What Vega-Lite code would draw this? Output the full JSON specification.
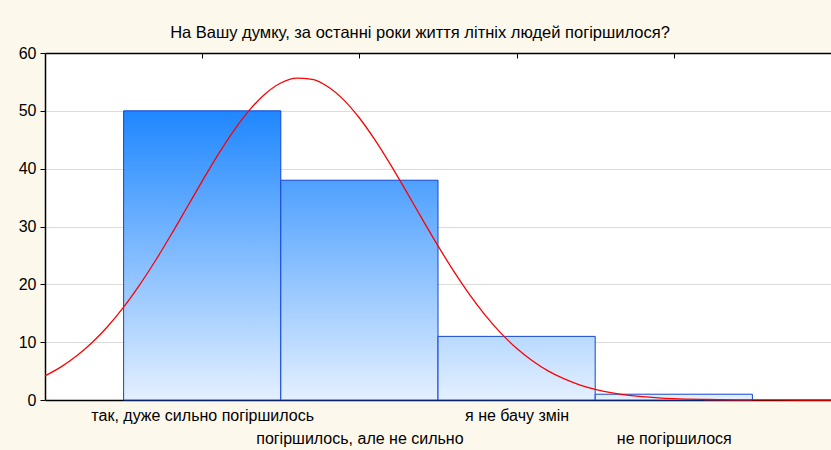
{
  "$schema": "https://vega.github.io/schema/vega-lite/v6.json",
  "autosize": "none",
  "width": 786,
  "height": 347,
  "padding": {"left": 45, "top": 53, "right": 0, "bottom": 50},
  "background": "#fdf8ec",
  "title": {
    "text": "На Вашу думку, за останні роки життя літніх людей погіршилося?",
    "font": "Liberation Sans",
    "fontSize": 16.5,
    "fontWeight": "normal",
    "color": "#000000",
    "anchor": "middle",
    "dx": -18,
    "offset": 4
  },
  "config": {
    "view": {"fill": "#ffffff", "stroke": null},
    "axis": {
      "labelFont": "Liberation Sans",
      "labelFontSize": 16,
      "labelColor": "#000000",
      "labelLimit": 0,
      "domainColor": "#000000",
      "domainWidth": 1.5,
      "tickColor": "#000000",
      "title": null
    }
  },
  "datasets": {
    "bars": [
      {"x0": 0.5, "x1": 1.5, "n": 50, "cat": "так, дуже сильно погіршилось"},
      {"x0": 1.5, "x1": 2.5, "n": 38, "cat": "погіршилось, але не сильно"},
      {"x0": 2.5, "x1": 3.5, "n": 11, "cat": "я не бачу змін"},
      {"x0": 3.5, "x1": 4.5, "n": 1, "cat": "не погіршилося"}
    ],
    "curve": [
      {"x": 0.0, "y": 4.18}, {"x": 0.1, "y": 5.69}, {"x": 0.2, "y": 7.6}, {"x": 0.3, "y": 9.94},
      {"x": 0.4, "y": 12.76}, {"x": 0.5, "y": 16.05}, {"x": 0.6, "y": 19.82}, {"x": 0.7, "y": 23.99},
      {"x": 0.8, "y": 28.48}, {"x": 0.9, "y": 33.15}, {"x": 1.0, "y": 37.85}, {"x": 1.1, "y": 42.38},
      {"x": 1.2, "y": 46.53}, {"x": 1.3, "y": 50.11}, {"x": 1.4, "y": 52.92}, {"x": 1.5, "y": 54.81},
      {"x": 1.6, "y": 55.67}, {"x": 1.7, "y": 55.45}, {"x": 1.8, "y": 54.17}, {"x": 1.9, "y": 51.9},
      {"x": 2.0, "y": 48.76}, {"x": 2.1, "y": 44.93}, {"x": 2.2, "y": 40.6}, {"x": 2.3, "y": 35.98},
      {"x": 2.4, "y": 31.27}, {"x": 2.5, "y": 26.65}, {"x": 2.6, "y": 22.28}, {"x": 2.7, "y": 18.26},
      {"x": 2.8, "y": 14.68}, {"x": 2.9, "y": 11.57}, {"x": 3.0, "y": 8.95}, {"x": 3.1, "y": 6.79},
      {"x": 3.2, "y": 5.04}, {"x": 3.3, "y": 3.68}, {"x": 3.4, "y": 2.63}, {"x": 3.5, "y": 1.85},
      {"x": 3.6, "y": 1.27}, {"x": 3.7, "y": 0.86}, {"x": 3.8, "y": 0.57}, {"x": 3.9, "y": 0.37},
      {"x": 4.0, "y": 0.23}, {"x": 4.2, "y": 0.09}, {"x": 4.4, "y": 0.03}, {"x": 4.6, "y": 0.01},
      {"x": 4.8, "y": 0.0}, {"x": 5.0, "y": 0.0}
    ]
  },
  "resolve": {"axis": {"x": "independent"}},
  "layer": [
    {
      "data": {"name": "bars"},
      "transform": [{"filter": "datum.n == 50"}],
      "mark": {
        "type": "bar",
        "fill": {"gradient": "linear", "x1": 0, "y1": 0, "x2": 0, "y2": 1,
          "stops": [{"offset": 0, "color": "#1f87ff"}, {"offset": 1, "color": "#e4f0ff"}]},
        "stroke": "#1246d2", "strokeWidth": 1
      },
      "encoding": {
        "x": {"field": "x0", "type": "quantitative",
          "scale": {"domain": [0, 5], "nice": false, "zero": false, "padding": 0},
          "axis": {
            "orient": "bottom", "values": [1, 2, 3, 4], "grid": false,
            "tickSize": -5, "labelPadding": 12, "labelBaseline": "top",
            "labelLineHeight": 23, "labelOverlap": false, "labelBound": false, "labelFlush": false,
            "labelExpr": "datum.value == 1 ? 'так, дуже сильно погіршилось' : datum.value == 2 ? ['', 'погіршилось, але не сильно'] : datum.value == 3 ? 'я не бачу змін' : ['', 'не погіршилося']"
          }},
        "x2": {"field": "x1"},
        "y": {"field": "n", "type": "quantitative",
          "scale": {"domain": [0, 60], "nice": false, "padding": 0},
          "axis": {"values": [0, 10, 20, 30, 40, 50, 60], "grid": true, "gridColor": "#dcdcdc",
            "tickSize": 5, "labelPadding": 4}},
        "y2": {"datum": 0}
      }
    },
    {
      "data": {"name": "bars"},
      "transform": [{"filter": "datum.n == 38"}],
      "mark": {
        "type": "bar",
        "fill": {"gradient": "linear", "x1": 0, "y1": 0, "x2": 0, "y2": 1,
          "stops": [{"offset": 0, "color": "#4ea0ff"}, {"offset": 1, "color": "#e4f0ff"}]},
        "stroke": "#1246d2", "strokeWidth": 1
      },
      "encoding": {
        "x": {"field": "x0", "type": "quantitative", "axis": null},
        "x2": {"field": "x1"},
        "y": {"field": "n", "type": "quantitative"},
        "y2": {"datum": 0}
      }
    },
    {
      "data": {"name": "bars"},
      "transform": [{"filter": "datum.n == 11"}],
      "mark": {
        "type": "bar",
        "fill": {"gradient": "linear", "x1": 0, "y1": 0, "x2": 0, "y2": 1,
          "stops": [{"offset": 0, "color": "#b9d9ff"}, {"offset": 1, "color": "#e4f0ff"}]},
        "stroke": "#1246d2", "strokeWidth": 1
      },
      "encoding": {
        "x": {"field": "x0", "type": "quantitative", "axis": null},
        "x2": {"field": "x1"},
        "y": {"field": "n", "type": "quantitative"},
        "y2": {"datum": 0}
      }
    },
    {
      "data": {"name": "bars"},
      "transform": [{"filter": "datum.n == 1"}],
      "mark": {
        "type": "bar",
        "fill": {"gradient": "linear", "x1": 0, "y1": 0, "x2": 0, "y2": 1,
          "stops": [{"offset": 0, "color": "#e0eeff"}, {"offset": 1, "color": "#e4f0ff"}]},
        "stroke": "#1246d2", "strokeWidth": 1
      },
      "encoding": {
        "x": {"field": "x0", "type": "quantitative", "axis": null},
        "x2": {"field": "x1"},
        "y": {"field": "n", "type": "quantitative"},
        "y2": {"datum": 0}
      }
    },
    {
      "data": {"name": "curve"},
      "mark": {"type": "line", "color": "#ff0000", "strokeWidth": 1.3, "interpolate": "monotone"},
      "encoding": {
        "x": {"field": "x", "type": "quantitative",
          "axis": {"orient": "top", "values": [1, 2, 3, 4], "labels": false, "grid": false, "tickSize": -5}},
        "y": {"field": "y", "type": "quantitative"}
      }
    }
  ]
}
